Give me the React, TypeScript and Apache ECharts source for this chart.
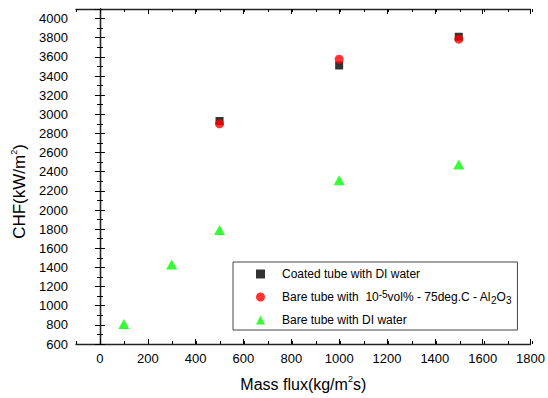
import React, { useEffect, useRef } from "react";
import * as echarts from "echarts";

const coatedX = [500, 1000, 1500];
const coatedY = [2930, 3510, 3810];
const nanoX = [500, 1000, 1500];
const nanoY = [2900, 3575, 3785];
const bareX = [100, 300, 500, 1000, 1500];
const bareY = [810, 1430, 1790, 2310, 2475];

const xMajorTicks = [0, 200, 400, 600, 800, 1000, 1200, 1400, 1600, 1800];
const seriesNames = [
  "Coated tube with DI water",
  "Bare tube with 10-5vol% - 75deg.C - Al2O3",
  "Bare tube with DI water",
];

const FONT = "'Liberation Sans', Arial, sans-serif";

export default function App() {
  const ref = useRef<HTMLDivElement>(null);
  useEffect(() => {
    if (!ref.current) return;
    const chart = echarts.init(ref.current, null, { renderer: "svg" });
    const lineStyle = { color: "#222", width: 1.3 };
    const gridBox = { left: 76, right: 16, top: 9, bottom: 54 };
    const majorTick = { show: true, inside: true, length: 5, lineStyle: { color: "#000", width: 1 } };
    const minorTick = { show: true, inside: true, length: 3, lineStyle: { color: "#000", width: 1 } };
    const plain = (v: number) => String(v);
    const labelStyle = { color: "#000", fontSize: 13, fontFamily: FONT, formatter: plain };
    const pair = (arr: number[], ys: number[]) => arr.map((x, i) => [x, ys[i]]);

    chart.setOption({
      animation: false,
      textStyle: { fontFamily: FONT },
      grid: [
        { ...gridBox },
        { ...gridBox },
      ],
      legend: {
        orient: "vertical",
        left: 233,
        top: 262,
        padding: [4, 6, 2, 23],
        itemWidth: 9,
        itemHeight: 9,
        itemGap: 7,
        symbolKeepAspect: true,
        borderColor: "#444",
        borderWidth: 1,
        borderRadius: 0,
        data: seriesNames,
        formatter: (name: string) => {
          if (name === seriesNames[1]) {
            return "{pad|}{a|Bare tube with\u00a0 10}{sup|-5}{a|vol% - 75deg.C - Al}{sub|2}{a|O}{sub|3}";
          }
          return "{pad|}{a|" + name + "}";
        },
        textStyle: {
          color: "#000",
          fontSize: 12,
          fontFamily: FONT,
          lineHeight: 16,
          rich: {
            pad: { width: 12, lineHeight: 16 },
            a: { fontSize: 12, lineHeight: 16, fontFamily: FONT, color: "#000" },
            sup: { fontSize: 10, lineHeight: 1, verticalAlign: "top", fontFamily: FONT, color: "#000" },
            sub: { fontSize: 10, lineHeight: 9.6, verticalAlign: "bottom", fontFamily: FONT, color: "#000" },
          },
        },
      },
      xAxis: [
        {
          type: "value",
          gridIndex: 0,
          position: "bottom",
          min: -100,
          max: 1800,
          axisLine: { show: true, lineStyle },
          axisTick: { ...majorTick, customValues: xMajorTicks },
          axisLabel: { ...labelStyle, margin: 8, customValues: xMajorTicks },
          splitLine: { show: false },
          name: "{a|Mass flux(kg/m}{sup|2}{a|s)}",
          nameLocation: "middle",
          nameGap: 30,
          nameTextStyle: {
            rich: {
              a: { fontSize: 16, lineHeight: 20, fontFamily: FONT, color: "#000" },
              sup: { fontSize: 9, lineHeight: 14, verticalAlign: "top", fontFamily: FONT, color: "#000" },
            },
          },
        },
        {
          type: "value",
          gridIndex: 0,
          position: "top",
          min: -100,
          max: 1800,
          axisLine: { show: true, lineStyle },
          axisTick: { ...majorTick, customValues: xMajorTicks },
          axisLabel: { show: false },
          splitLine: { show: false },
        },
        {
          type: "value",
          gridIndex: 1,
          position: "bottom",
          min: -100,
          max: 1800,
          interval: 100,
          axisLine: { show: false },
          axisTick: minorTick,
          axisLabel: { show: false },
          splitLine: { show: false },
        },
        {
          type: "value",
          gridIndex: 1,
          position: "top",
          min: -100,
          max: 1800,
          interval: 100,
          axisLine: { show: false },
          axisTick: minorTick,
          axisLabel: { show: false },
          splitLine: { show: false },
        },
      ],
      yAxis: [
        {
          type: "value",
          gridIndex: 0,
          position: "left",
          min: 600,
          max: 4100,
          interval: 200,
          axisLine: { show: true, lineStyle },
          axisTick: majorTick,
          axisLabel: { ...labelStyle, margin: 8, showMaxLabel: false },
          splitLine: { show: false },
          name: "{a|CHF(kW/m}{sup|2}{a|)}",
          nameLocation: "middle",
          nameGap: 46,
          nameTextStyle: {
            padding: [0, 30, 0, 0],
            rich: {
              a: { fontSize: 17, lineHeight: 20, fontFamily: FONT, color: "#000" },
              sup: { fontSize: 9, lineHeight: 14, verticalAlign: "top", fontFamily: FONT, color: "#000" },
            },
          },
        },
        {
          type: "value",
          gridIndex: 0,
          position: "right",
          min: 600,
          max: 4100,
          interval: 200,
          axisLine: { show: true, lineStyle },
          axisTick: majorTick,
          axisLabel: { show: false },
          splitLine: { show: false },
        },
        {
          type: "value",
          gridIndex: 1,
          position: "left",
          min: 600,
          max: 4100,
          interval: 100,
          axisLine: { show: false },
          axisTick: minorTick,
          axisLabel: { show: false },
          splitLine: { show: false },
        },
        {
          type: "value",
          gridIndex: 1,
          position: "right",
          min: 600,
          max: 4100,
          interval: 100,
          axisLine: { show: false },
          axisTick: minorTick,
          axisLabel: { show: false },
          splitLine: { show: false },
        },
      ],
      series: [
        {
          name: seriesNames[0],
          type: "scatter",
          xAxisIndex: 0,
          yAxisIndex: 0,
          symbol: "rect",
          symbolSize: 8,
          itemStyle: { color: "#000000" },
          data: pair(coatedX, coatedY),
        },
        {
          name: seriesNames[1],
          type: "scatter",
          xAxisIndex: 0,
          yAxisIndex: 0,
          symbol: "circle",
          symbolSize: 9,
          itemStyle: { color: "#ff0000" },
          data: pair(nanoX, nanoY),
        },
        {
          name: seriesNames[2],
          type: "scatter",
          xAxisIndex: 0,
          yAxisIndex: 0,
          symbol: "triangle",
          symbolSize: [11, 10],
          itemStyle: { color: "#00ff00" },
          data: pair(bareX, bareY),
        },
      ],
    });
    return () => chart.dispose();
  }, []);
  return (
    <div
      ref={ref}
      style={{ position: "fixed", left: 0, top: 0, width: 548, height: 398, background: "#fff" }}
    />
  );
}
